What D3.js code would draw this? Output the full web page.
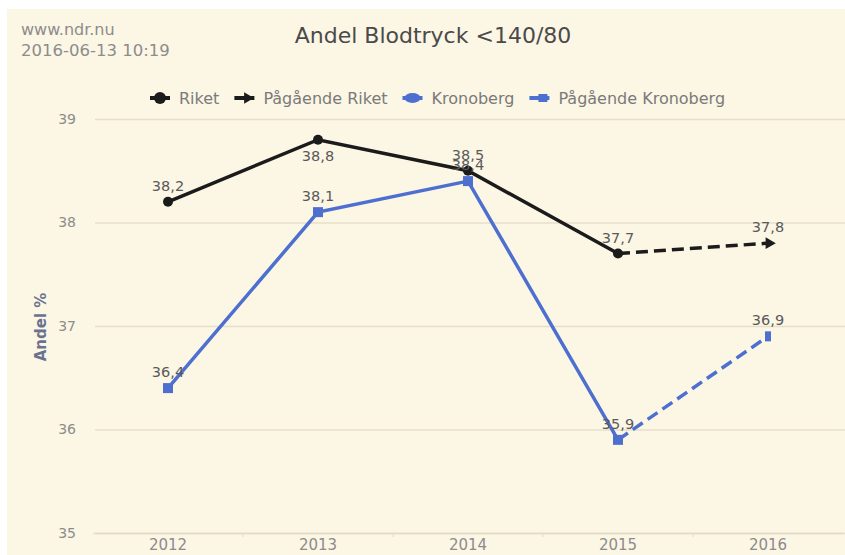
<!DOCTYPE html>
<head>
    <meta charset="utf-8">
    <title>Andel Blodtryck &lt;140/80</title>
    <style>
        body { margin: 0; background: #fff; }
        text { font-family: "DejaVu Sans", sans-serif; }
    </style>
</head>
<body>
<svg width="845" height="555"></svg>
<script src="https://d3js.org/d3.v7.min.js"></script>
<script>

    // data
    var years = ["2012", "2013", "2014", "2015", "2016"];
    var riket = [38.2, 38.8, 38.5, 37.7, null];
    var pagaendeRiket = [null, null, null, 37.7, 37.8];
    var kronoberg = [36.4, 38.1, 38.4, 35.9, null];
    var pagaendeKronoberg = [null, null, null, 35.9, 36.9];
    var yTicks = [35, 36, 37, 38, 39];
    var legendNames = ["Riket", "Pågående Riket", "Kronoberg", "Pågående Kronoberg"];

    var black = "#1b1b1b", blue = "#4d6fd0";

    //svg setting
    var svg = d3.select("svg"),
        width = +svg.attr("width"),
        height = +svg.attr("height");

    // cream panel with a thin white edge top/left
    svg.append("rect").attr("x", 0).attr("y", 0).attr("width", width).attr("height", height).attr("fill", "#fff");
    svg.append("rect").attr("x", 7).attr("y", 9).attr("width", width - 7).attr("height", height - 9).attr("fill", "#fcf6e5");

    //scaling
    var x = d3.scaleBand().domain(years).range([93, 843]);
    var y = d3.scaleLinear().domain([35, 39]).range([533, 119]);
    var cx = d => x(d) + x.bandwidth() / 2;

    // header texts
    svg.append("text").attr("x", 21).attr("y", 35).attr("fill", "#8c8c8c").attr("font-size", 16).text("www.ndr.nu");
    svg.append("text").attr("x", 21).attr("y", 56).attr("fill", "#8c8c8c").attr("font-size", 16.5).text("2016-06-13 10:19");
    svg.append("text").attr("x", 433).attr("y", 43).attr("text-anchor", "middle")
        .attr("fill", "#4a4a4a").attr("font-size", 22).text("Andel Blodtryck <140/80");

    // grid + y ticks
    var yAxis = svg.append("g").attr("transform", "translate(95,0)")
        .call(d3.axisLeft(y).tickValues(yTicks).tickSize(-750).tickPadding(19).tickFormat(d3.format("d")));
    yAxis.select(".domain").remove();
    yAxis.selectAll(".tick line").attr("stroke", "#e6dfcb").attr("stroke-width", 1.5);
    yAxis.selectAll(".tick text").attr("fill", "#8c8c8c").attr("font-size", 14);

    // x axis
    var xAxis = svg.append("g").attr("transform", "translate(0,533)")
        .call(d3.axisBottom(x).tickSize(0).tickPadding(6));
    xAxis.select(".domain").attr("stroke", "#e2dac5").attr("stroke-width", 1.5);
    xAxis.selectAll(".tick text").attr("fill", "#8c8c8c").attr("font-size", 15);
    // band separators
    xAxis.selectAll(".sep").data(years.slice(1)).enter().append("line")
        .attr("x1", d => x(d)).attr("x2", d => x(d)).attr("y1", 0).attr("y2", 4)
        .attr("stroke", "#e2dac5");

    // y axis title
    svg.append("text").attr("transform", "translate(46,327) rotate(-90)")
        .attr("text-anchor", "middle").attr("fill", "#6a7290").attr("font-size", 15).attr("font-weight", "bold")
        .text("Andel %");

    var line = d3.line()
        .defined(d => d.v != null)
        .x(d => cx(d.year)).y(d => y(d.v));

    function pts(arr) { return years.map((yr, i) => ({year: yr, v: arr[i]})); }

    var series = [
        {name: "Riket", data: pts(riket), color: black, dash: null},
        {name: "Pågående Riket", data: pts(pagaendeRiket), color: black, dash: "12,6"},
        {name: "Kronoberg", data: pts(kronoberg), color: blue, dash: null},
        {name: "Pågående Kronoberg", data: pts(pagaendeKronoberg), color: blue, dash: "12,6"}
    ];

    series.forEach(s => {
        svg.append("path").datum(s.data)
            .attr("fill", "none").attr("stroke", s.color).attr("stroke-width", 3.5)
            .attr("stroke-dasharray", s.dash)
            .attr("d", line);
    });

    // markers
    var rPts = pts(riket).filter(d => d.v != null);
    svg.selectAll(".mr").data(rPts).enter().append("circle")
        .attr("cx", d => cx(d.year)).attr("cy", d => y(d.v)).attr("r", 5).attr("fill", black);
    var kPts = pts(kronoberg).filter(d => d.v != null);
    svg.selectAll(".mk").data(kPts).enter().append("rect")
        .attr("x", d => cx(d.year) - 5).attr("y", d => y(d.v) - 5).attr("width", 10).attr("height", 10).attr("fill", blue);
    // end markers of ongoing series
    var pr = pts(pagaendeRiket).filter(d => d.v != null).slice(-1);
    svg.selectAll(".mpr").data(pr).enter().append("path")
        .attr("d", d3.symbol(d3.symbolTriangle, 60)())
        .attr("transform", d => "translate(" + (cx(d.year) + 1) + "," + y(d.v) + ") rotate(90)")
        .attr("fill", black);
    var pk = pts(pagaendeKronoberg).filter(d => d.v != null).slice(-1);
    svg.selectAll(".mpk").data(pk).enter().append("rect")
        .attr("x", d => cx(d.year) - 3).attr("y", d => y(d.v) - 5).attr("width", 6).attr("height", 10).attr("fill", blue);

    // data labels
    var fmt = v => d3.format(".1f")(v).replace(".", ",");
    var labels = [];
    riket.forEach((v, i) => { if (v != null) labels.push({year: years[i], v: v, dy: i == 1 ? 21 : -11}); });
    labels.push({year: years[4], v: pagaendeRiket[4], dy: -11});
    kronoberg.forEach((v, i) => { if (v != null) labels.push({year: years[i], v: v, dy: -11}); });
    labels.push({year: years[4], v: pagaendeKronoberg[4], dy: -11});
    svg.selectAll(".lbl").data(labels).enter().append("text")
        .attr("x", d => cx(d.year)).attr("y", d => y(d.v) + d.dy)
        .attr("text-anchor", "middle").attr("fill", "#5a5a5a").attr("font-size", 14.5)
        .text(d => fmt(d.v));

    // legend
    var legend = svg.append("g").attr("transform", "translate(0,98)");
    var lx = 150;
    legendNames.forEach((name, i) => {
        var s = series[i];
        var g = legend.append("g").attr("transform", "translate(" + lx + ",0)");
        g.append("line").attr("x1", 0).attr("x2", 20).attr("y1", 0).attr("y2", 0)
            .attr("stroke", s.color).attr("stroke-width", 4);
        if (i == 0) g.append("circle").attr("cx", 10).attr("cy", 0).attr("r", 6).attr("fill", black);
        if (i == 1) g.append("path").attr("d", d3.symbol(d3.symbolTriangle, 55)()).attr("transform", "translate(13,0) rotate(90)").attr("fill", black);
        if (i == 2) g.append("ellipse").attr("cx", 10).attr("cy", 0).attr("rx", 8).attr("ry", 5).attr("fill", blue);
        if (i == 3) g.append("rect").attr("x", 9).attr("y", -4).attr("width", 9).attr("height", 8).attr("fill", blue);
        var t = g.append("text").attr("x", 29).attr("y", 6).attr("fill", "#7a7a7a").attr("font-size", 16).text(name);
        lx += 29 + t.node().getComputedTextLength() + 15;
    });

</script>
</body>
